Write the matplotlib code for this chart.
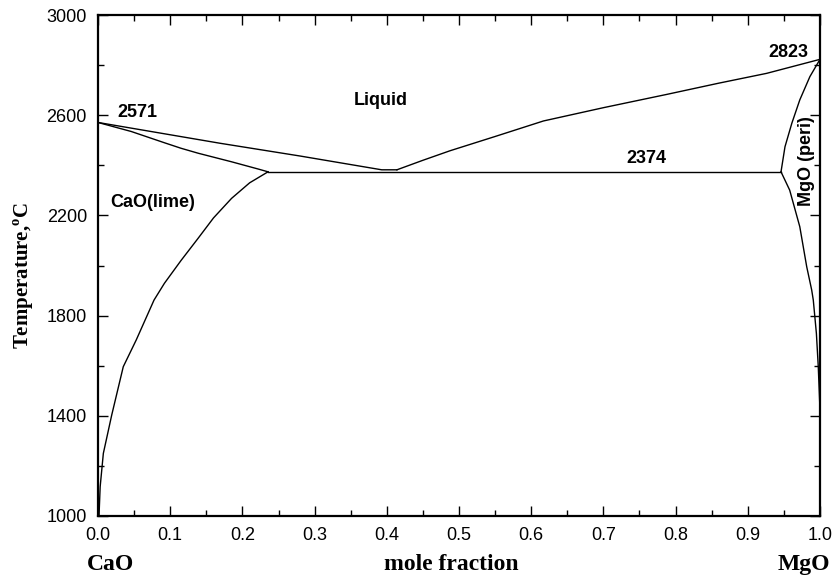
import matplotlib
matplotlib.use("Agg")
import matplotlib.pyplot as plt
from matplotlib.ticker import MultipleLocator, FixedLocator

# CaO-MgO phase diagram
liq_cao_x = [0.0, 0.169, 0.28, 0.393, 0.414]
liq_cao_t = [2571, 2488, 2437, 2382, 2382]

liq_mgo_x = [0.414, 0.45, 0.4875, 0.55, 0.617, 0.70, 0.7877, 0.86, 0.926, 1.0]
liq_mgo_t = [2382, 2420, 2458, 2515, 2577, 2630, 2683, 2728, 2767, 2823]

sol_cao_x = [0.0, 0.046, 0.092, 0.115, 0.139, 0.185, 0.222, 0.2355]
sol_cao_t = [2571, 2535, 2490, 2468, 2448, 2414, 2385, 2374]

solvus_cao_x = [0.2355, 0.21, 0.185, 0.16, 0.1385, 0.115, 0.092, 0.0776,
                0.053, 0.035, 0.019, 0.0074, 0.003, 0.0014]
solvus_cao_t = [2374, 2330, 2268, 2190, 2108, 2020, 1929, 1862,
                1703, 1596, 1403, 1250, 1117, 1000]

sol_mgo_x = [1.0, 0.986, 0.972, 0.961, 0.9515, 0.946]
sol_mgo_t = [2823, 2754, 2661, 2568, 2474, 2374]

solvus_mgo_x = [0.946, 0.958, 0.972, 0.9816, 0.9885, 0.9907, 0.995, 0.9976, 1.0, 1.0]
solvus_mgo_t = [2374, 2301, 2155, 1995, 1902, 1862, 1729, 1596, 1423, 1200]

eutectic_x = [0.2355, 0.946]
eutectic_t = [2374, 2374]

y_ticks = [1000, 1400, 1800, 2200, 2600, 3000]

labels = [
    ("2571", 0.055, 2593),
    ("Liquid", 0.392, 2641),
    ("CaO(lime)", 0.076, 2235),
    ("2374", 0.760, 2409),
    ("2823", 0.956, 2832),
]

plt.rcParams["mathtext.fontset"] = "custom"
plt.rcParams["mathtext.rm"] = "Liberation Serif:bold"
plt.rcParams["mathtext.bf"] = "Liberation Serif:bold"

fig = plt.figure(figsize=(8.37, 5.76), dpi=100)
ax = fig.add_axes([98 / 837, 1 - 516 / 576, 722 / 837, 501 / 576])

lw = 1.0
for xs, ts in [(liq_cao_x, liq_cao_t), (liq_mgo_x, liq_mgo_t),
               (sol_cao_x, sol_cao_t), (solvus_cao_x, solvus_cao_t),
               (sol_mgo_x, sol_mgo_t), (solvus_mgo_x, solvus_mgo_t),
               (eutectic_x, eutectic_t)]:
    ax.plot(xs, ts, color="black", lw=lw)

ax.set_xlim(0, 1)
ax.set_ylim(1000, 3000)
ax.xaxis.set_major_locator(MultipleLocator(0.1))
ax.xaxis.set_minor_locator(MultipleLocator(0.05))
ax.set_yticks(y_ticks)
ax.yaxis.set_minor_locator(FixedLocator(range(1200, 3000, 400)))
ax.set_xticklabels([f"{v:.1f}" for v in ax.get_xticks()])
ax.tick_params(which="both", direction="in", top=True, right=True, width=1.0)
ax.tick_params(which="major", length=7, pad=8)
ax.tick_params(which="minor", length=4)
for lab in ax.get_xticklabels() + ax.get_yticklabels():
    lab.set_fontfamily("Liberation Sans")
    lab.set_fontsize(13)
for sp in ax.spines.values():
    sp.set_linewidth(1.6)

for txt, x, t in labels:
    ax.text(x, t, txt, ha="center", va="baseline", fontsize=13,
            fontweight="bold", family="Liberation Sans")
ax.text(0.981, 2415, "MgO (peri)", rotation=90, ha="center", va="center",
        fontsize=13, fontweight="bold", family="Liberation Sans")

serif = dict(family="Liberation Serif", fontweight="bold", fontsize=17, va="baseline")
fig.text(110 / 837, 1 - 570 / 576, "CaO", ha="center", **serif)
fig.text(451 / 837, 1 - 570 / 576, "mole fraction", ha="center", **serif)
fig.text(804 / 837, 1 - 570 / 576, "MgO", ha="center", **serif)
fig.text(24 / 837, 1 - 275 / 576, r"Temperature,$^{\mathbf{o}}$C", rotation=90,
         ha="center", va="center", family="Liberation Serif", fontweight="bold",
         fontsize=15)

fig.savefig("out.png", dpi=100)
